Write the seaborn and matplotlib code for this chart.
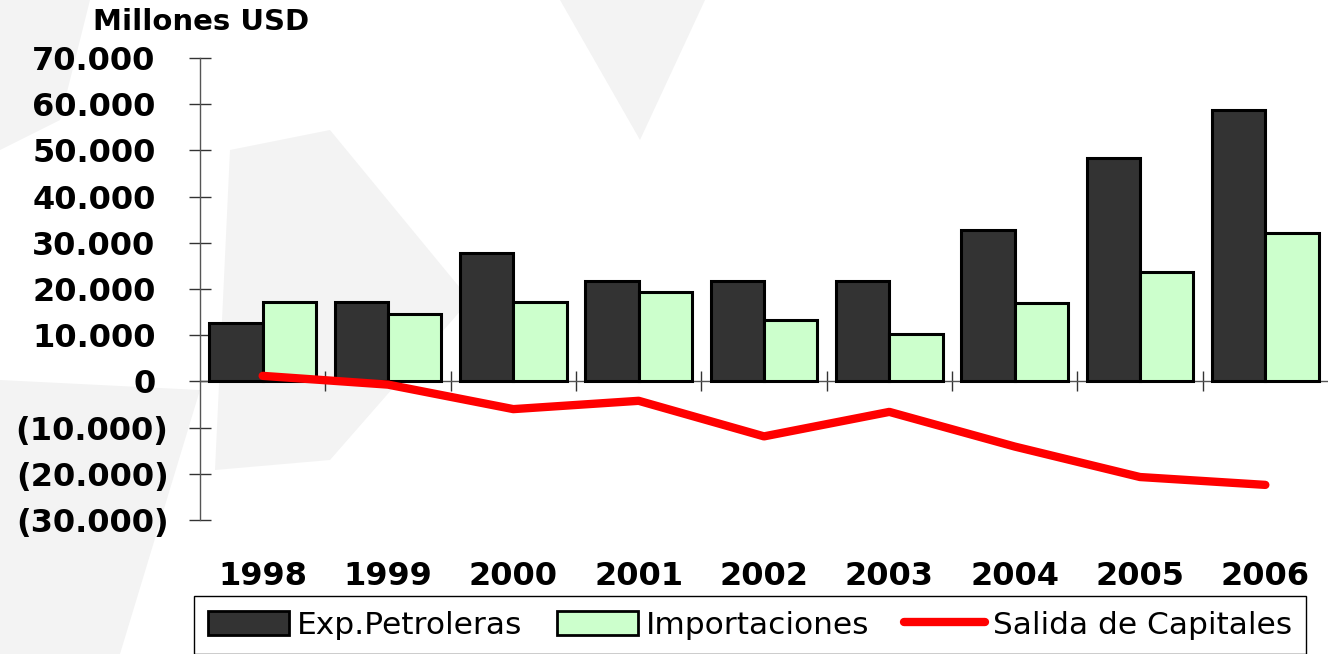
import numpy as np
import pandas as pd
import matplotlib
matplotlib.use("Agg")
import matplotlib.pyplot as plt
import matplotlib.transforms as mtransforms
from matplotlib.patches import Patch, Polygon
from matplotlib.lines import Line2D
from matplotlib.ticker import FixedLocator, FuncFormatter
import seaborn as sns

# ---- data (millones USD) ----
years = ["1998", "1999", "2000", "2001", "2002", "2003", "2004", "2005", "2006"]
exp_petroleras = [12600, 17100, 27700, 21800, 21800, 21700, 32700, 48300, 58700]
importaciones = [17100, 14600, 17100, 19400, 13300, 10200, 16900, 23600, 32100]
salida_capitales = [1200, -700, -6000, -4200, -11900, -6600, -14100, -20700, -22400]

series_names = ["Exp.Petroleras", "Importaciones", "Salida de Capitales"]
y_ticks = [-30000, -20000, -10000, 0, 10000, 20000, 30000, 40000, 50000, 60000, 70000]

df = pd.DataFrame({
    "year": years * 2,
    "value": exp_petroleras + importaciones,
    "serie": [series_names[0]] * len(years) + [series_names[1]] * len(years),
})

sns.set_style("white")
plt.rcParams["font.family"] = ["DejaVu Sans"]
plt.rcParams["text.color"] = "black"
plt.rcParams["xtick.labelcolor"] = "black"
plt.rcParams["ytick.labelcolor"] = "black"

W, H = 1328, 654
fig = plt.figure(figsize=(W / 100, H / 100), dpi=100)

# faint watermark shapes in the background
wm = [
    [(0, 0), (90, 0), (60, 120), (0, 150)],
    [(560, 0), (705, 0), (640, 140)],
    [(0, 380), (200, 390), (120, 654), (0, 654)],
    [(230, 150), (330, 130), (470, 300), (330, 460), (215, 470)],
]
for pts in wm:
    fig.add_artist(Polygon([(x / W, 1 - y / H) for x, y in pts], closed=True,
                           transform=fig.transFigure, facecolor="#f3f3f3",
                           edgecolor="none", zorder=-5))

ax = fig.add_axes([200 / W, 1 - 520 / H, (W - 200) / W, 462 / H])
ax.set_facecolor("none")
ax.set_zorder(1)

sns.barplot(data=df, x="year", y="value", hue="serie",
            palette=["#333333", "#ccffcc"], width=0.85,
            edgecolor="black", linewidth=2.2, saturation=1,
            legend=False, ax=ax, zorder=3)
sns.lineplot(x=years, y=salida_capitales, color="#ff0000", linewidth=6,
             sort=False, ax=ax, zorder=4)

ax.set_ylim(-30000, 70000)
ax.set_xlim(-0.5, len(years) - 0.5)
ax.set_xlabel("")
ax.set_ylabel("")

# spines
for s in ["top", "right"]:
    ax.spines[s].set_visible(False)
ax.spines["left"].set_color("#555555")
ax.spines["left"].set_linewidth(1)
ax.spines["bottom"].set_position(("data", 0))
ax.spines["bottom"].set_color("#555555")
ax.spines["bottom"].set_linewidth(1)

# y ticks
ax.yaxis.set_major_locator(FixedLocator(y_ticks))

def fmt(v, pos):
    s = f"{abs(int(v)):,}".replace(",", ".")
    return f"({s})" if v < 0 else s

ax.yaxis.set_major_formatter(FuncFormatter(fmt))
ax.tick_params(axis="y", direction="inout", length=16, width=1, color="#333333",
               labelsize=23, pad=24, left=True, labelcolor="black")
for lab in ax.get_yticklabels():
    lab.set_fontweight("bold")
    if lab.get_text().startswith("("):
        lab.set_transform(lab.get_transform() +
                          mtransforms.ScaledTranslation(0.13, 0, fig.dpi_scale_trans))

# x ticks: category boundaries on the zero line, labels far below
ax.xaxis.set_minor_locator(FixedLocator(np.arange(0.5, len(years) - 1, 1.0)))
ax.tick_params(axis="x", which="minor", direction="inout", length=14, width=1,
               color="#333333", bottom=True)
ax.tick_params(axis="x", which="major", length=0, labelsize=23, pad=129,
               labelcolor="black")
for lab in ax.get_xticklabels():
    lab.set_fontweight("bold")

fig.text(201 / W, 1 - 22 / H, "Millones USD", ha="center", va="center",
         fontsize=21, fontweight="bold", color="black")

handles = [
    Patch(facecolor="#333333", edgecolor="black", linewidth=2),
    Patch(facecolor="#ccffcc", edgecolor="black", linewidth=2),
    Line2D([], [], color="#ff0000", linewidth=6),
]
leg = fig.legend(handles, series_names, loc="center", ncol=3,
                 bbox_to_anchor=(750 / W, 1 - 625 / H), fontsize=22.5,
                 frameon=True, fancybox=False, framealpha=1, edgecolor="black",
                 handlelength=2.6, handleheight=0.8, handletextpad=0.25,
                 columnspacing=1.1, borderpad=0.45, borderaxespad=0,
                 labelcolor="black")
leg.get_frame().set_linewidth(1)

fig.savefig("out.png", dpi=100)
plt.close(fig)
